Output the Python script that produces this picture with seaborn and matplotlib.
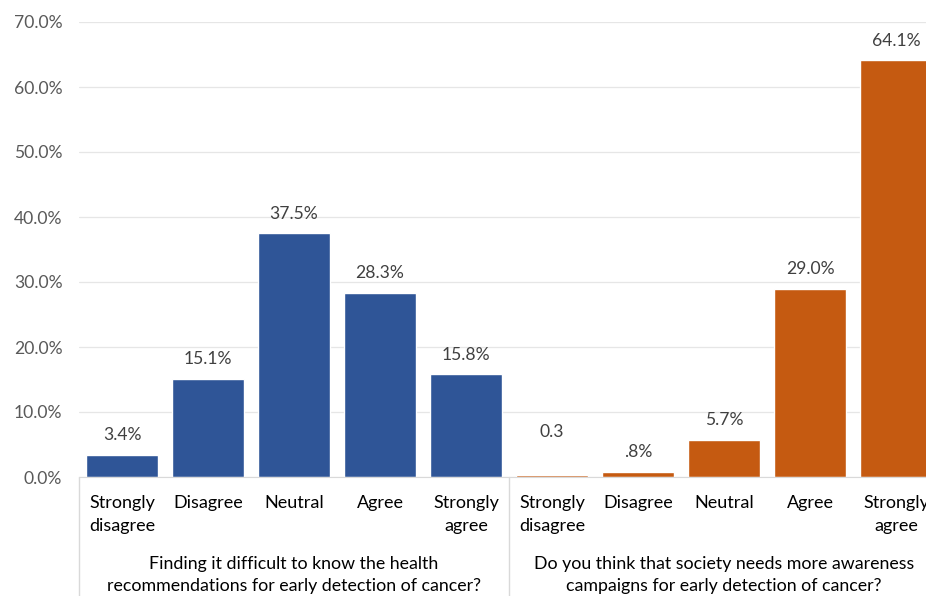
import matplotlib
matplotlib.use("Agg")
import matplotlib.pyplot as plt
import matplotlib.transforms as mtransforms
from matplotlib.ticker import FuncFormatter
import seaborn as sns
import pandas as pd

# ---- data ----
questions = [
    "Finding it difficult to know the health\nrecommendations for early detection of cancer?",
    "Do you think that society needs more awareness\ncampaigns for early detection of cancer?",
]
categories = ["Strongly\ndisagree", "Disagree", "Neutral", "Agree", "Strongly\nagree"]
q1_values = [3.4, 15.1, 37.5, 28.3, 15.8]
q2_values = [0.3, 0.8, 5.7, 29.0, 64.1]
q1_labels = ["3.4%", "15.1%", "37.5%", "28.3%", "15.8%"]
q2_labels = ["0.3", ".8%", "5.7%", "29.0%", "64.1%"]

rows = []
for qi, (q, vals) in enumerate(zip(questions, [q1_values, q2_values])):
    for c, v in zip(categories, vals):
        rows.append({"item": f"{qi}|{c}", "category": c, "question": q, "value": v})
df = pd.DataFrame(rows)
value_labels = q1_labels + q2_labels
label_offsets = [14.2] * 5 + [31, 14.2, 14.2, 14.2, 14.2]

# ---- figure ----
sns.set_style("white")
plt.rcParams["font.family"] = ["Lato", "DejaVu Sans"]
fig = plt.figure(figsize=(9.26, 5.96), dpi=100)
ax = fig.add_axes([79 / 926, 1 - 477 / 596, 860 / 926, 455 / 596])

blue, orange = "#2F5597", "#C55A11"
sns.barplot(data=df, x="item", y="value", hue="question", palette=[blue, orange],
            dodge=False, width=0.837, legend=False, ax=ax, saturation=1)

ax.set_ylim(0, 70)
ax.set_xlim(-0.5, 9.5)
ax.set_yticks(range(0, 71, 10))
ax.yaxis.set_major_formatter(FuncFormatter(lambda v, p: f"{v:.1f}%"))
ax.grid(axis="y", color="#E6E6E6", linewidth=0.9)
ax.set_axisbelow(True)
for s in ["top", "right", "left"]:
    ax.spines[s].set_visible(False)
ax.spines["bottom"].set_color("#D9D9D9")
ax.set_xlabel("")
ax.set_ylabel("")
ax.set_xticks(range(10))
ax.set_xticklabels(df["category"].tolist(), fontsize=13, color="#000000", linespacing=1.5,
                   va="top")
ax.tick_params(axis="x", length=0, pad=13)
ax.tick_params(axis="y", length=0, pad=12, labelsize=12.6, labelcolor="#595959")

# value labels
for i, (p, lab, off) in enumerate(zip(ax.patches, value_labels, label_offsets)):
    x = p.get_x() + p.get_width() / 2
    h = p.get_height()
    ax.annotate(lab, (x, h), xytext=(0, off), textcoords="offset points",
                ha="center", va="center", fontsize=12.6, color="#404040")

# separator lines for multi-level categories
trans = mtransforms.blended_transform_factory(ax.transData, ax.transAxes)
for xs in [-0.5, 4.5, 9.5]:
    ax.plot([xs, xs], [0, -0.4], transform=trans, color="#D9D9D9", linewidth=1, clip_on=False)

# group labels
gtrans = mtransforms.blended_transform_factory(ax.transData, fig.transFigure)
for gx, q in zip([2, 7], questions):
    ax.text(gx, 1 - 575 / 596, q, transform=gtrans, ha="center", va="center",
            fontsize=12.8, color="#000000", linespacing=1.4)

fig.savefig("out.png", dpi=100)
